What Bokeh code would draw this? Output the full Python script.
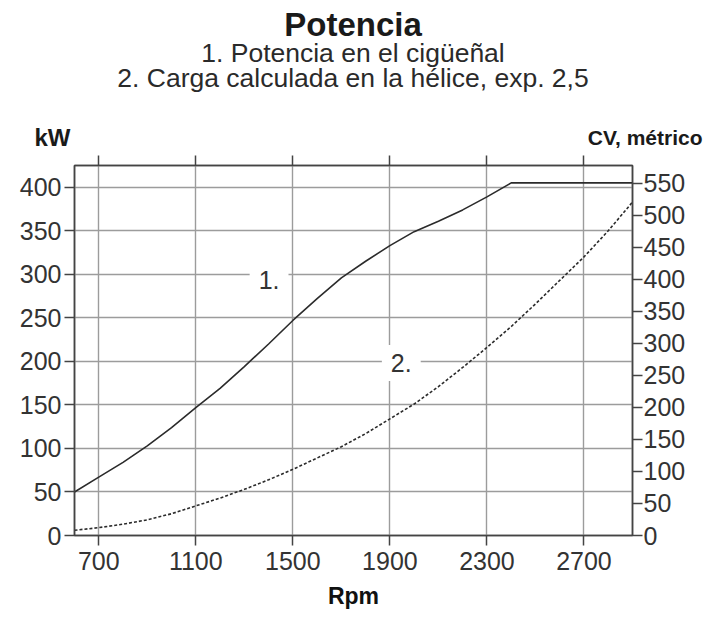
from bokeh.plotting import figure
from bokeh.layouts import column
from bokeh.models import Range1d, LinearAxis, Label, FixedTicker
from bokeh.embed import file_html
from bokeh.resources import INLINE

# Engine speed (rpm) and crankshaft power (kW)
crank_rpm = [600, 700, 800, 900, 1000, 1100, 1200, 1300, 1400, 1500, 1600,
             1700, 1800, 1900, 2000, 2100, 2200, 2300, 2400, 2900]
crank_kw = [50, 67, 84, 103, 124, 147, 169, 194, 220, 247, 272,
            296, 315, 333, 349, 361, 374, 389, 405, 405]

# Propeller load curve (kW)
prop_rpm = [600, 700, 800, 900, 1000, 1100, 1200, 1300, 1400, 1500, 1600, 1700,
            1800, 1900, 2000, 2100, 2200, 2300, 2400, 2500, 2600, 2700, 2800, 2900]
prop_kw = [6, 9, 13, 18, 25, 34, 43, 53, 64, 76, 89, 102,
           117, 134, 151, 171, 193, 216, 240, 266, 293, 320, 350, 383]

rpm_ticks = [700, 1100, 1500, 1900, 2300, 2700]
kw_ticks = [0, 50, 100, 150, 200, 250, 300, 350, 400]
cv_ticks = [0, 50, 100, 150, 200, 250, 300, 350, 400, 450, 500, 550]
KW_TO_CV = 1.36

title_text = "Potencia"
subtitle_lines = ["1. Potencia en el cigüeñal",
                  "2. Carga calculada en la hélice, exp. 2,5"]
curve_tags = ["1.", "2."]

X0, X1 = 600, 2900
Y0, Y1 = 0, 425
W = 705
HEAD_H = 150
CHART_H = 619 - HEAD_H

FONT = "Liberation Sans"
GRID = "#9c9c9c"
INK = "#333333"

# ---- heading strip: title, subtitles and unit captions (pixel coordinates,
#      y measured downwards, texts centred vertically on their y)
head = figure(width=W, height=HEAD_H, x_range=Range1d(0, W),
              y_range=Range1d(HEAD_H, 0), x_axis_type=None, y_axis_type=None,
              title=None, output_backend="svg", toolbar_location=None,
              min_border=0)
head.outline_line_color = None
head.grid.visible = False
head.background_fill_color = "white"
head.border_fill_color = "white"
head.frame_align = False

head.add_layout(Label(x=352.5, y=23.5, text=title_text, text_align="center",
                      text_baseline="middle", text_font=FONT,
                      text_font_style="bold", text_font_size="33px",
                      text_color="#1a1a1a"))
for line, mid in zip(subtitle_lines, [52, 77.5]):
    head.add_layout(Label(x=352.5, y=mid, text=line, text_align="center",
                          text_baseline="middle", text_font=FONT,
                          text_font_size="26.5px", text_color="#2a2a2a"))
head.add_layout(Label(x=34, y=137, text="kW", text_align="left",
                      text_baseline="middle", text_font=FONT,
                      text_font_style="bold", text_font_size="24px",
                      text_color="#1a1a1a"))
head.add_layout(Label(x=702, y=137, text="CV, métrico", text_align="right",
                      text_baseline="middle", text_font=FONT,
                      text_font_style="bold", text_font_size="21px",
                      text_color="#1a1a1a"))

# ---- chart
p = figure(width=W, height=CHART_H, x_range=Range1d(X0, X1), y_range=Range1d(Y0, Y1),
           title=None, output_backend="svg", toolbar_location=None,
           min_border_left=74, min_border_right=73,
           min_border_top=15, min_border_bottom=84)
p.background_fill_color = "white"
p.border_fill_color = "white"
p.outline_line_color = "#444444"
p.outline_line_width = 1.5
p.frame_align = False

p.extra_y_ranges = {"cv": Range1d(Y0 * KW_TO_CV, Y1 * KW_TO_CV)}

p.xgrid.ticker = FixedTicker(ticks=rpm_ticks)
p.ygrid.ticker = FixedTicker(ticks=kw_ticks)
for g in (p.xgrid[0], p.ygrid[0]):
    g.grid_line_color = GRID
    g.grid_line_width = 1.4


def style_axis(ax, show_labels=True):
    ax.axis_line_color = "#444444"
    ax.axis_line_width = 1.5
    ax.major_tick_line_color = "#444444"
    ax.major_tick_line_width = 1.5
    ax.major_tick_out = 10
    ax.major_tick_in = 0
    ax.minor_tick_out = 0
    ax.minor_tick_in = 0
    ax.major_label_text_font = FONT
    ax.major_label_text_font_size = "25px"
    ax.major_label_text_color = INK if show_labels else None


xb = p.xaxis[0]
xb.ticker = FixedTicker(ticks=rpm_ticks)
style_axis(xb)
xb.major_label_standoff = 6
xb.axis_label = "Rpm"
xb.axis_label_text_font = FONT
xb.axis_label_text_font_style = "bold"
xb.axis_label_text_font_size = "23px"
xb.axis_label_text_color = "#111111"
xb.axis_label_standoff = 10

yl = p.yaxis[0]
yl.ticker = FixedTicker(ticks=kw_ticks)
style_axis(yl)
yl.major_label_standoff = 3

top_axis = LinearAxis(ticker=FixedTicker(ticks=rpm_ticks))
style_axis(top_axis, show_labels=False)
top_axis.major_label_text_font_size = "1px"
top_axis.major_label_standoff = 0
p.add_layout(top_axis, "above")

right_axis = LinearAxis(y_range_name="cv", ticker=FixedTicker(ticks=cv_ticks))
style_axis(right_axis)
right_axis.major_label_standoff = 1
p.add_layout(right_axis, "right")

# power curves
p.line(crank_rpm, crank_kw, line_color="#2b2b2b", line_width=1.6)
p.line(prop_rpm, prop_kw, line_color="#2b2b2b", line_width=1.6, line_dash="3 2")

# curve tags on white boxes that break the grid
for tag, (tx, ty) in zip(curve_tags, [(1402, 293), (1947, 198)]):
    p.add_layout(Label(x=tx, y=ty, text=tag, text_align="center",
                       text_baseline="middle", text_font=FONT,
                       text_font_size="25px", text_color=INK,
                       background_fill_color="white", padding=9))

layout = column(head, p, spacing=0)
open("out.html", "w").write(file_html(layout, INLINE))
